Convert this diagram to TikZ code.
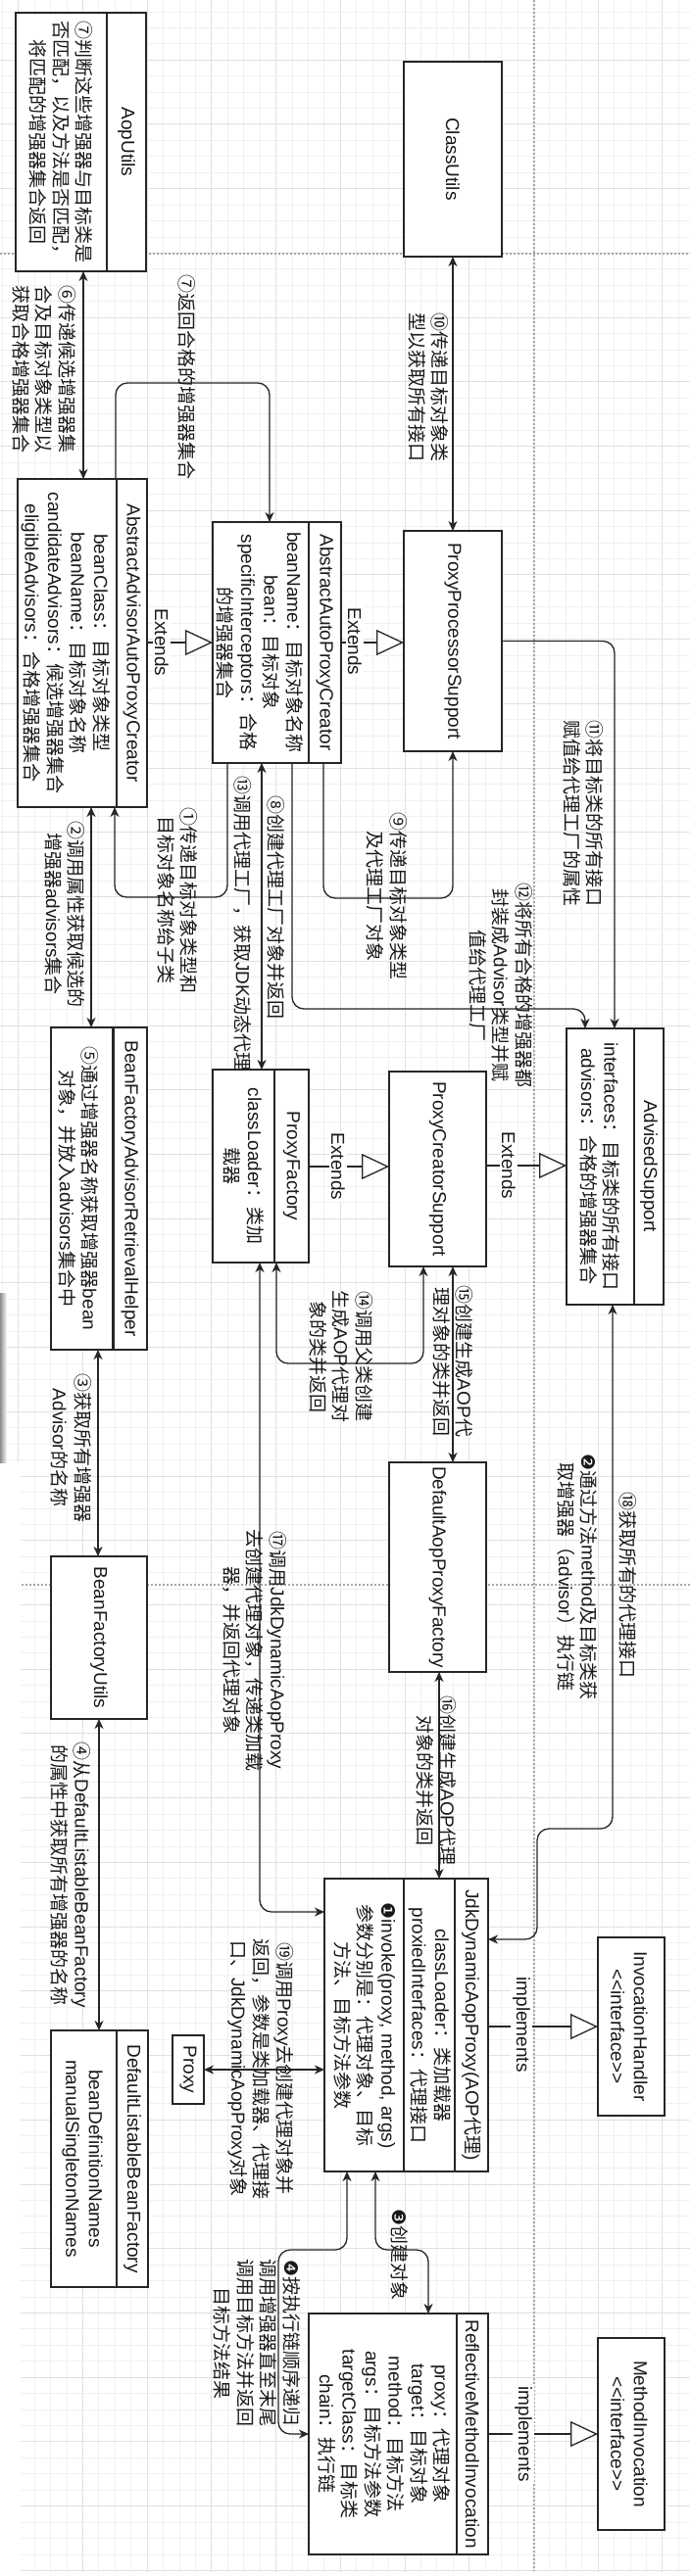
\documentclass[tikz,border=0pt]{standalone}
\usepackage{fontspec}
\setmainfont{Liberation Sans}
\newfontfamily\latinfont{Liberation Sans}
\newfontfamily\cjkfont{Noto Sans CJK SC}
\newfontfamily\djv{DejaVu Sans}
\usetikzlibrary{arrows.meta}
\XeTeXinterchartokenstate=1
\ifdefined\newXeTeXintercharclass \newXeTeXintercharclass\cjkclass \else \chardef\cjkclass=101 \fi
\newcount\cjkc
\def\setclassrange#1#2#3{\cjkc=#1\relax\loop\XeTeXcharclass\cjkc=#3\relax\advance\cjkc by 1\relax\ifnum\cjkc<#2\relax\repeat}
\setclassrange{"21}{"7F}{0}
\setclassrange{"2776}{"2794}{0}
\setclassrange{"2460}{"2500}{\cjkclass}
\setclassrange{"3000}{"3040}{\cjkclass}
\setclassrange{"4E00}{"A000}{\cjkclass}
\setclassrange{"FF00}{"FFF0}{\cjkclass}
\XeTeXinterchartoks 0 \cjkclass = {\cjkfont}
\XeTeXinterchartoks 4095 \cjkclass = {\cjkfont}
\XeTeXinterchartoks \cjkclass 0 = {\latinfont}
\XeTeXinterchartoks \cjkclass 4095 = {\latinfont}
\newcommand\lblfont{\fontsize{19}{23.5}\selectfont}
\begin{document}
\begin{tikzpicture}[x=1pt,y=-1pt,
  box/.style={draw=black!85, line width=1.5pt, fill=white, inner sep=0pt, outer sep=0pt},
  txt/.style={rotate=-90, align=center, font=\lblfont, inner sep=0pt, text=black!90},
  lbl/.style={txt},
  extlbl/.style={txt, fill=white, inner sep=2pt},
  conn/.style={line width=1.3pt, draw=black!85, rounded corners=12pt},
  arr/.style={conn, -{Stealth[length=10pt,width=9pt,inset=3pt]}},
  darr/.style={conn, {Stealth[length=10pt,width=9pt,inset=3pt]}-{Stealth[length=10pt,width=9pt,inset=3pt]}},
  ext/.style={conn, -{Triangle[length=28pt,width=26pt,fill=white]}},
  div/.style={line width=1.5pt, draw=black!85},
  gmin/.style={draw=black!6, line width=0.8pt},
  gmaj/.style={draw=black!12, line width=1pt},
  pgbrk/.style={draw=black!35, line width=1.2pt, dash pattern=on 2pt off 2pt}
]
\useasboundingbox (0,0) rectangle (704,2630);
\fill[white] (0,0) rectangle (704,2630);
% grid
\foreach \i in {0,...,42}{
  \pgfmathsetmacro\gx{2.27+16.43*\i}
  \pgfmathtruncatemacro\gm{mod(\i+3,4)}
  \ifnum\gm=0 \draw[gmaj] (\gx,0) -- (\gx,2630); \else \draw[gmin] (\gx,0) -- (\gx,2630); \fi
}
\foreach \j in {1,...,160}{
  \pgfmathsetmacro\gy{-4.5+16.43*\j}
  \pgfmathtruncatemacro\gm{mod(\j,4)}
  \ifnum\gm=0 \draw[gmaj] (0,\gy) -- (704,\gy); \else \draw[gmin] (0,\gy) -- (704,\gy); \fi
}
\fill[white] (0,1493) rectangle (21,2630);
\fill[white] (0,2626) rectangle (704,2630);
\shade[left color=black!45, right color=white] (0,1320) rectangle (7,1493);
% page breaks
\draw[pgbrk] (0,259) -- (704,259);
\draw[pgbrk] (22,1618) -- (704,1618);
\draw[pgbrk] (545,0) -- (545,2625);

% ---------- boxes ----------
\node[box, minimum width=133pt, minimum height=264pt] (aop) at (82.5,145) {};
\draw[div] (aop.north -| 109,0) -- (aop.south -| 109,0);
\node[txt] (taoph) at (129,145) {AopUtils};
\node[txt] (taopb) at (62.5,145) {⑦判断这些增强器与目标类是\\否匹配，以及方法是否匹配，\\将匹配的增强器集合返回};

\node[box, minimum width=100pt, minimum height=199pt] (cls) at (462,162.5) {};
\node[txt] (tcls) at (462,162.5) {ClassUtils};

\node[box, minimum width=132pt, minimum height=335pt] (aaapc) at (84,656.5) {};
\draw[div] (aaapc.north -| 119,0) -- (aaapc.south -| 119,0);
\node[txt] (taaapch) at (134.5,656.5) {AbstractAdvisorAutoProxyCreator};
\node[txt] (taaapcb) at (67,656.5) {beanClass：目标对象类型\\beanName：目标对象名称\\candidateAdvisors：候选增强器集合\\eligibleAdvisors：合格增强器集合};

\node[box, minimum width=131pt, minimum height=246pt] (aapc) at (282.5,656) {};
\draw[div] (aapc.north -| 315,0) -- (aapc.south -| 315,0);
\node[txt] (taapch) at (331.5,656) {AbstractAutoProxyCreator};
\node[txt] (taapcb) at (265,656) {beanName：目标对象名称\\bean：目标对象\\specificInterceptors：合格\\的增强器集合};

\node[box, minimum width=100pt, minimum height=225pt] (pps) at (462,654.5) {};
\node[txt] (tpps) at (462,654.5) {ProxyProcessorSupport};

\node[box, minimum width=98pt, minimum height=329pt] (bfarh) at (101,1213.5) {};
\draw[div, line width=3pt] (bfarh.north -| 115,0) -- (bfarh.south -| 115,0);
\node[txt] (tbfarhh) at (132.5,1213.5) {BeanFactoryAdvisorRetrievalHelper};
\node[txt] (tbfarhb) at (80,1213.5) {⑤通过增强器名称获取增强器bean\\对象，并放入advisors集合中};

\node[box, minimum width=98pt, minimum height=197pt] (pf) at (266,1190.5) {};
\draw[div] (pf.north -| 280,0) -- (pf.south -| 280,0);
\node[txt] (tpfh) at (297.5,1190.5) {ProxyFactory};
\node[txt] (tpfb) at (248.5,1190.5) {classLoader：类加\\载器};

\node[box, minimum width=99pt, minimum height=199pt] (pcs) at (446.5,1193.5) {};
\node[txt] (tpcs) at (446.5,1193.5) {ProxyCreatorSupport};

\node[box, minimum width=99pt, minimum height=282pt] (as) at (627.5,1191) {};
\draw[div] (as.north -| 647,0) -- (as.south -| 647,0);
\node[txt] (tash) at (662,1191) {AdvisedSupport};
\node[txt] (tasb) at (612,1191) {interfaces：目标类的所有接口\\advisors：合格的增强器集合};

\node[box, minimum width=98pt, minimum height=166pt] (bfu) at (101,1672) {};
\node[txt] (tbfu) at (101,1672) {BeanFactoryUtils};

\node[box, minimum width=99pt, minimum height=214pt] (dapf) at (446.5,1600) {};
\node[txt] (tdapf) at (446.5,1600) {DefaultAopProxyFactory};

\node[box, minimum width=167pt, minimum height=299pt] (jdk) at (414.5,2067.5) {};
\draw[div] (jdk.north -| 464,0) -- (jdk.south -| 464,0);
\draw[div] (jdk.north -| 412,0) -- (jdk.south -| 412,0);
\node[txt] (tjdkh) at (481,2067.5) {JdkDynamicAopProxy(AOP代理)};
\node[txt] (tjdka) at (438.5,2068) {classLoader：类加载器\\proxiedInterfaces：代理接口};
\node[txt] (tjdkm) at (372,2068) {{\djv ❶}invoke(proxy, method, args)\\参数分别是：代理对象、目标\\方法、目标方法参数};

\node[box, minimum width=68pt, minimum height=182pt] (ih) at (644,2069) {};
\node[txt] (tih) at (642,2069) {InvocationHandler\\<\kern0pt<interface>\kern0pt>};

\node[box, minimum width=32pt, minimum height=70pt] (proxy) at (192,2113) {};
\node[txt] (tproxy) at (192,2113) {Proxy};

\node[box, minimum width=99pt, minimum height=262pt] (dlbf) at (101.5,2204) {};
\draw[div] (dlbf.north -| 119,0) -- (dlbf.south -| 119,0);
\node[txt] (tdlbfh) at (135,2204) {DefaultListableBeanFactory};
\node[txt] (tdlbfb) at (84,2204) {beanDefinitionNames\\manualSingletonNames};

\node[box, minimum width=183pt, minimum height=246pt] (rmi) at (406.5,2485) {};
\draw[div] (rmi.north -| 466,0) -- (rmi.south -| 466,0);
\node[txt] (trmih) at (482,2485) {ReflectiveMethodInvocation};
\node[txt] (trmib) at (392,2485) {proxy：代理对象\\target：目标对象\\method：目标方法\\args：目标方法参数\\targetClass：目标类\\chain：执行链};

\node[box, minimum width=68pt, minimum height=196pt] (mi) at (644,2485) {};
\node[txt] (tmi) at (642,2485) {MethodInvocation\\<\kern0pt<interface>\kern0pt>};

% ---------- connectors ----------
\draw[darr] (pps.north) -- (cls.south);
\draw[darr] (aop.south -| 85,0) -- (aaapc.north -| 85,0);
\draw[arr] (aaapc.north -| 118,0) -- (118,391) -- (275,391) -- (aapc.north -| 275,0);
\draw[ext] (aaapc.east |- aapc.west) -- (aapc.west);
\draw[ext] (aapc.east) -- (aapc.east -| pps.west);
\draw[arr] (aapc.south -| 232,0) -- (232,916) -- (117,916) -- (aaapc.south -| 117,0);
\draw[darr] (aaapc.south -| 93,0) -- (bfarh.north -| 93,0);
\draw[arr] (aapc.south -| 330,0) -- (330,917) -- (462,917) -- (pps.south);
\draw[darr] (aapc.south -| 267,0) -- (pf.north -| 267,0);
\draw[arr] (aapc.south -| 298,0) -- (298,1030) -- (597,1030) -- (as.north -| 597,0);
\draw[arr] (pps.east) -- (627,654.5) -- (as.north -| 627,0);
\draw[ext] (pf.east |- 0,1191) -- (pcs.west |- 0,1191);
\draw[ext] (pcs.east |- 0,1190) -- (as.west |- 0,1190);
\draw[darr] (pf.south -| 265,0) -- (265,1952) -- (jdk.west |- 0,1952);
\draw[darr] (pf.south -| 282,0) -- (282,1392) -- (432,1392) -- (pcs.south -| 432,0);
\draw[darr] (pcs.south -| 462,0) -- (dapf.north -| 462,0);
\draw[darr] (bfarh.south -| 100,0) -- (bfu.north -| 100,0);
\draw[darr] (dapf.south -| 448,0) -- (jdk.north -| 448,0);
\draw[darr] (as.south -| 625,0) -- (625,1867) -- (548,1867) -- (548,1980) -- (jdk.east |- 0,1980);
\draw[darr] (bfu.south -| 101,0) -- (dlbf.north -| 101,0);
\draw[darr] (proxy.east) -- (jdk.west |- proxy.east);
\draw[ext] (jdk.east |- ih.west) -- (ih.west);
\draw[ext] (rmi.east |- mi.west) -- (mi.west);
\draw[darr] (jdk.south -| 383,0) -- (383,2297) -- (437,2297) -- (rmi.north -| 437,0);
\draw[darr] (jdk.south -| 354,0) -- (354,2297) -- (284,2297) -- (284,2485) -- (rmi.west |- 0,2485);

% ---------- labels ----------
\node[extlbl] (e1) at (165,656) {Extends};
\node[extlbl] (e2) at (362,655) {Extends};
\node[extlbl] (e3) at (345,1191) {Extends};
\node[extlbl] (e4) at (519,1190) {Extends};
\node[extlbl] (i1) at (532,2067) {implements};
\node[extlbl] (i2) at (534,2485) {implements};

\node[lbl] (l10) at (437,395) {⑩传递目标对象类\\型以获取所有接口};
\node[lbl] (l6) at (45,377) {⑥传递候选增强器集\\合及目标对象类型以\\获取合格增强器集合};
\node[lbl] (l7) at (191,385) {⑦返回合格的增强器集合};
\node[lbl] (l1) at (181,919) {①传递目标对象类型和\\目标对象名称给子类};
\node[lbl] (l2) at (66,933) {②调用属性获取候选的\\增强器advisors集合};
\node[lbl] (l9) at (395,915) {⑨传递目标对象类型\\及代理工厂对象};
\node[lbl] (l13) at (248,943) {⑬调用代理工厂，获取JDK动态代理};
\node[lbl] (l8) at (282,926) {⑧创建代理工厂对象并返回};
\node[lbl] (l12) at (511,1006) {⑫将所有合格的增强器都\\封装成Advisor类型并赋\\值给代理工厂};
\node[lbl] (l11) at (595,830) {⑪将目标类的所有接口\\赋值给代理工厂的属性};
\node[lbl] (l3) at (73,1478) {③获取所有增强器\\Advisor的名称};
\node[lbl] (l14) at (348,1385) {⑭调用父类创建\\生成AOP代理对\\象的类并返回};
\node[lbl] (l15) at (462,1390) {⑮创建生成AOP代\\理对象的类并返回};
\node[lbl] (l17) at (260,1685) {⑰调用JdkDynamicAopProxy\\去创建代理对象，传递类加载\\器，并返回代理对象};
\node[lbl] (l18) at (641,1618) {⑱获取所有的代理接口};
\node[lbl] (l2b) at (589,1610) {{\djv ❷}通过方法method及目标类获\\取增强器（advisor）执行链};
\node[lbl] (l16) at (445,1818) {⑯创建生成AOP代理\\对象的类并返回};
\node[lbl] (l4) at (72,1914) {④从DefaultListableBeanFactory\\的属性中获取所有增强器的名称};
\node[lbl] (l19) at (266,2112) {⑲调用Proxy去创建代理对象并\\返回，参数是类加载器、代理接\\口、JdkDynamicAopProxy对象};
\node[lbl] (l3b) at (408,2302) {{\djv ❸}创建对象};
\node[lbl] (l4b) at (262,2392) {{\djv ❹}按执行链顺序递归\\调用增强器直至末尾\\调用目标方法并返回\\目标方法结果};
\end{tikzpicture}
\end{document}
